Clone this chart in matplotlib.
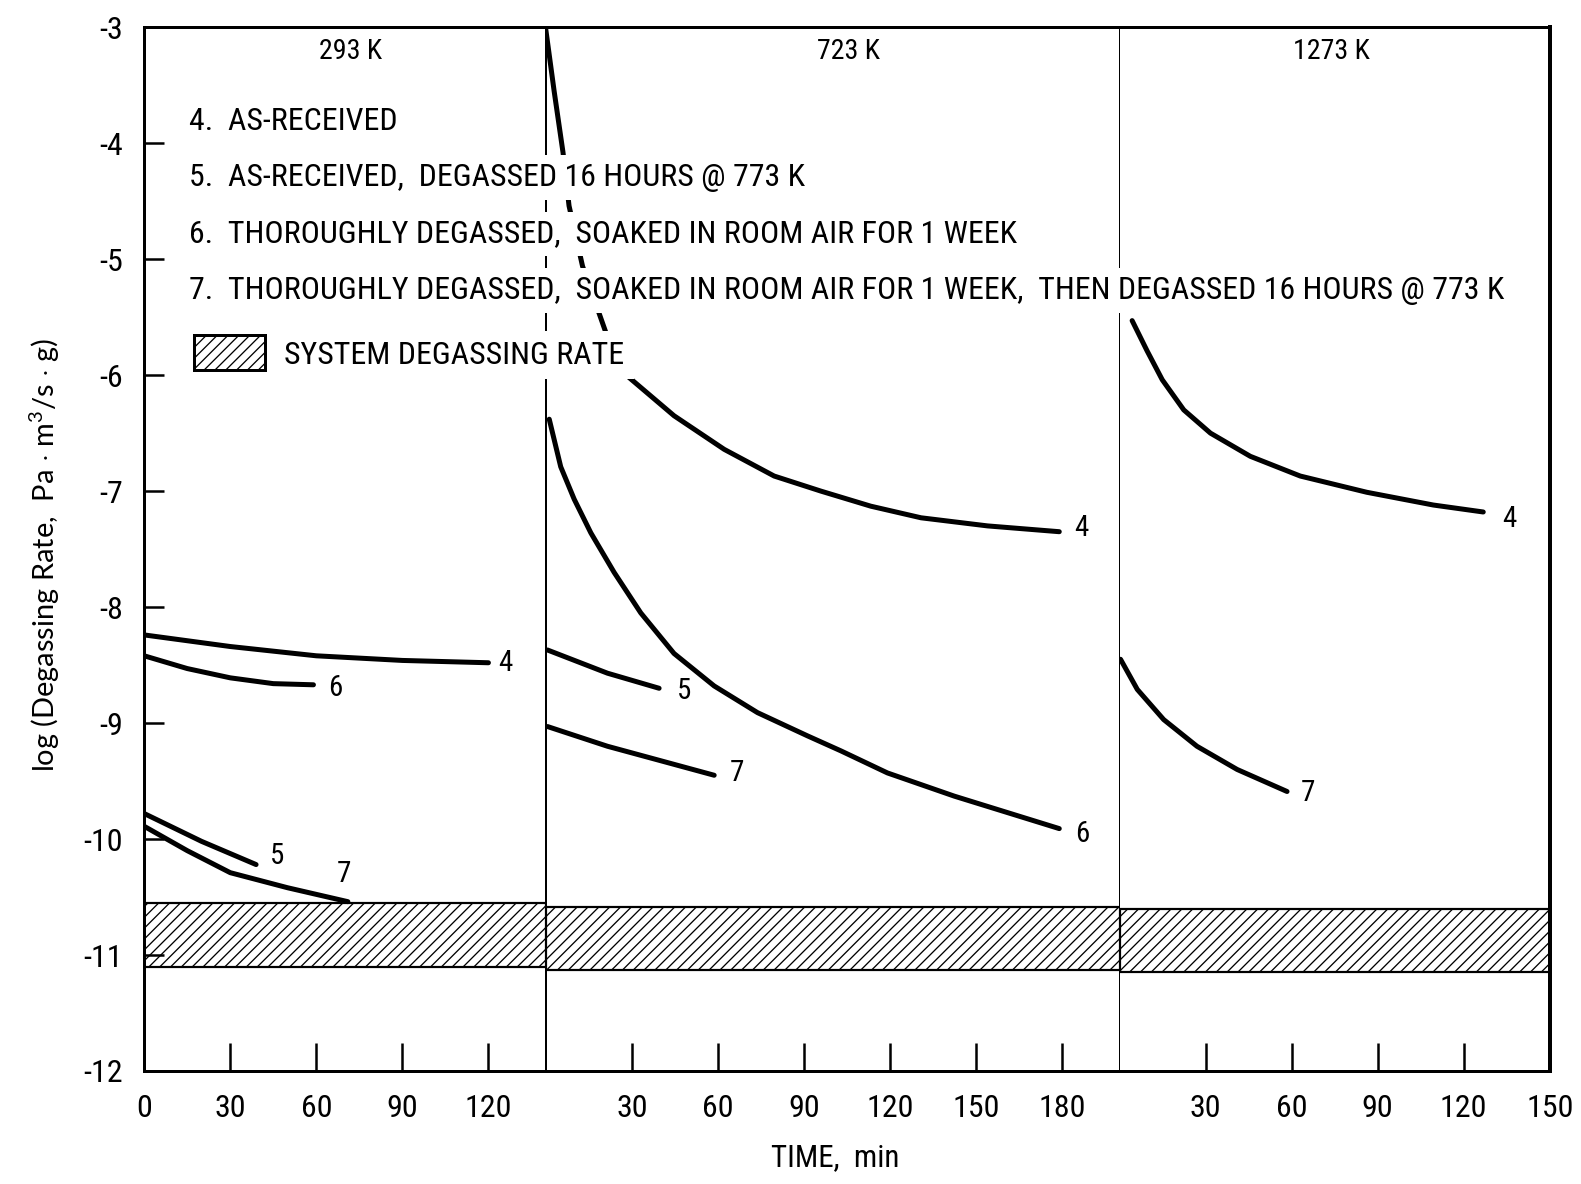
import os
import matplotlib
matplotlib.use("Agg")
import matplotlib.pyplot as plt
from matplotlib import font_manager
from matplotlib.font_manager import FontProperties
from matplotlib.patches import Rectangle

# ---------------- data ----------------
panel_minutes = [140, 200, 150]
panel_titles = ["293 K", "723 K", "1273 K"]

xtick_vals = [[0, 30, 60, 90, 120], [30, 60, 90, 120, 150, 180], [30, 60, 90, 120, 150]]
xtick_labels = [["0", "30", "60", "90", "120"],
                ["30", "60", "90", "120", "150", "180"],
                ["30", "60", "90", "120", "150"]]
ytick_vals = [-12, -11, -10, -9, -8, -7, -6, -5, -4, -3]
ytick_labels = ["-12", "-11", "-10", "-9", "-8", "-7", "-6", "-5", "-4", "-3"]

# system degassing rate band (log units) per panel
band_top = [-10.55, -10.59, -10.60]
band_bottom = [-11.10, -11.13, -11.15]

# 293 K
t4_293 = [0, 30, 60, 90, 120]
y4_293 = [-8.24, -8.34, -8.42, -8.46, -8.48]
t6_293 = [0, 15, 30, 45, 59]
y6_293 = [-8.42, -8.53, -8.61, -8.66, -8.67]
t5_293 = [0, 20, 39]
y5_293 = [-9.78, -10.02, -10.22]
t7_293 = [0, 15, 30, 50, 71]
y7_293 = [-9.89, -10.10, -10.29, -10.42, -10.54]

# 723 K
t4_723 = [0, 2.9, 6.0, 8.1, 12.8, 20.9, 29, 44.7, 62.2, 79.6, 95.9, 113.3, 130.8, 154, 179]
y4_723 = [-3.02, -3.55, -4.08, -4.54, -5.06, -5.63, -6.02, -6.35, -6.64, -6.87, -7.00,
          -7.13, -7.23, -7.30, -7.35]
t6_723 = [1.2, 5.2, 9.9, 15.7, 23.8, 33.1, 44.7, 58.7, 73.8, 91.2, 102.9, 119.1, 142.4, 179]
y6_723 = [-6.38, -6.79, -7.07, -7.36, -7.70, -8.05, -8.40, -8.68, -8.91, -9.11, -9.24,
          -9.43, -9.63, -9.91]
t5_723 = [0.6, 21.5, 39.5]
y5_723 = [-8.37, -8.57, -8.70]
t7_723 = [0.6, 21.5, 58.7]
y7_723 = [-9.03, -9.20, -9.45]

# 1273 K
t4_1273 = [4.4, 9.6, 14.9, 22.4, 31.7, 45.6, 63, 86.2, 109.4, 126.8]
y4_1273 = [-5.53, -5.79, -6.04, -6.30, -6.50, -6.70, -6.87, -7.01, -7.12, -7.18]
t7_1273 = [0.35, 6.2, 15.4, 27, 41, 58.4]
y7_1273 = [-8.45, -8.71, -8.97, -9.20, -9.40, -9.59]

curve_ids = [["4", "6", "5", "7"], ["4", "6", "5", "7"], ["4", "7"]]
curve_t = [[t4_293, t6_293, t5_293, t7_293], [t4_723, t6_723, t5_723, t7_723], [t4_1273, t7_1273]]
curve_y = [[y4_293, y6_293, y5_293, y7_293], [y4_723, y6_723, y5_723, y7_723], [y4_1273, y7_1273]]

legend_lines = [
    "4.  AS-RECEIVED",
    "5.  AS-RECEIVED,  DEGASSED 16 HOURS @ 773 K",
    "6.  THOROUGHLY DEGASSED,  SOAKED IN ROOM AIR FOR 1 WEEK",
    "7.  THOROUGHLY DEGASSED,  SOAKED IN ROOM AIR FOR 1 WEEK,  THEN DEGASSED 16 HOURS @ 773 K",
]
band_label = "SYSTEM DEGASSING RATE"
x_label = "TIME,  min"
y_label = r"log (Degassing Rate,  Pa $\cdot$ m$^{\mathrm{3}}$/s $\cdot$ g)"

# ---------------- style ----------------
DPI = 130
W, H = 1581, 1184


def pt(px):
    return px * 72.0 / DPI


def find_condensed():
    prefs = ["liberation sans narrow", "roboto condensed", "dejavu sans condensed",
             "open sans condensed", "noto sans condensed", "arial narrow"]
    found = {}
    for f in font_manager.fontManager.ttflist:
        base = os.path.basename(f.fname).lower().replace("-", " ").replace("_", " ")
        name = f.name.lower()
        if f.style != "normal":
            continue
        if "bold" in base or "light" in base or "thin" in base or "black" in base \
                or "medium" in base or "semi" in base or "extra" in base or "oblique" in base \
                or "italic" in base:
            continue
        key = None
        for p in prefs:
            ptoks = p.split()
            if all(tok in (name + " " + base) for tok in ptoks):
                key = p
                break
        if key is None and ("condensed" in base or "narrow" in base or "condensed" in name):
            key = "zz_other"
        if key is not None and key not in found:
            found[key] = f.fname
    for p in prefs + ["zz_other"]:
        if p in found:
            return found[p], p
    return None, None


cond_path, cond_kind = find_condensed()
names = {f.name for f in font_manager.fontManager.ttflist}
ylab_font = "Lato" if "Lato" in names else "DejaVu Sans"


def fp(px_size):
    if cond_path:
        return FontProperties(fname=cond_path, size=pt(px_size))
    return FontProperties(family="DejaVu Sans", stretch="condensed", size=pt(px_size))


plt.rcParams["hatch.linewidth"] = pt(1.3)
plt.rcParams["mathtext.fontset"] = "custom"
plt.rcParams["mathtext.rm"] = ylab_font
plt.rcParams["mathtext.it"] = ylab_font
plt.rcParams["mathtext.bf"] = ylab_font

PX_TEXT = 31.5
PX_TICK = 32
PX_TITLE = 28
PX_CLAB = 29
PX_XLAB = 31

fig = plt.figure(figsize=(W / DPI, H / DPI), dpi=DPI)
left, right = 144.2 / W, 1549.8 / W
top, bottom = 1 - 27.2 / H, 1 - 1071.0 / H
gs = fig.add_gridspec(1, 3, width_ratios=panel_minutes, left=left, right=right,
                      top=top, bottom=bottom, wspace=0)
axes = [fig.add_subplot(gs[0, i]) for i in range(3)]

title_x = [72, 105.5, 74]
label_offsets = [
    [(17, 0), (22, 3), (21, -9), (-4, -28)],
    [(22, -4), (23, 5), (25, 3), (23, -2)],
    [(26, 7), (21, 2)],
]

for i, ax in enumerate(axes):
    ax.set_xlim(0, panel_minutes[i])
    ax.set_ylim(-12, -3)
    ax.set_facecolor("white")
    ax.axhspan(band_bottom[i], band_top[i], facecolor="white", edgecolor="black",
               hatch="////", linewidth=pt(2.2), zorder=1)
    for cid, t, y, off in zip(curve_ids[i], curve_t[i], curve_y[i], label_offsets[i]):
        ax.plot(t, y, color="black", lw=pt(5), solid_capstyle="round",
                solid_joinstyle="round", zorder=3)
        ax.annotate(cid, xy=(t[-1], y[-1]), xytext=(pt(off[0]), -pt(off[1])),
                    textcoords="offset points", ha="center", va="center",
                    fontproperties=fp(PX_CLAB), zorder=4)
    ax.text(title_x[i], -3.21, panel_titles[i], ha="center", va="center",
            fontproperties=fp(PX_TITLE))
    ax.set_xticks(xtick_vals[i])
    ax.set_xticklabels(xtick_labels[i], fontproperties=fp(PX_TICK))
    ax.tick_params(axis="x", direction="in", length=pt(28), width=pt(2.5),
                   pad=pt(23), top=False)
    if i == 0:
        ax.set_yticks(ytick_vals)
        ax.set_yticklabels(ytick_labels, fontproperties=fp(PX_TICK))
        ax.tick_params(axis="y", direction="in", length=pt(20), width=pt(2.5),
                       pad=pt(21), right=False)
    else:
        ax.tick_params(axis="y", left=False, right=False, labelleft=False)
    for s in ["top", "bottom"]:
        ax.spines[s].set_linewidth(pt(3))

axes[0].spines["left"].set_linewidth(pt(3))
axes[0].spines["right"].set_visible(False)
axes[1].spines["left"].set_linewidth(pt(2))
axes[1].spines["right"].set_linewidth(pt(2))
axes[2].spines["left"].set_visible(False)
axes[2].spines["right"].set_linewidth(pt(4))

# legend block: fit the longest line to the reference width
renderer = fig.canvas.get_renderer()
probe = fig.text(0, 0, legend_lines[3], fontproperties=fp(PX_TEXT))
wpx = probe.get_window_extent(renderer).width
probe.remove()
px_leg = PX_TEXT * (1311.0 / wpx)
px_leg = max(24.0, min(34.0, px_leg))

leg_y = [121, 177.5, 234, 290.4]
bbox = dict(boxstyle="square,pad=0.25", facecolor="white", edgecolor="none")
for s, yy in zip(legend_lines, leg_y):
    fig.text(188.6 / W, 1 - yy / H, s, ha="left", va="center", fontproperties=fp(px_leg),
             bbox=bbox, zorder=10)
rect = Rectangle((193.6 / W, 1 - 370 / H), 71.6 / W, 35.2 / H, transform=fig.transFigure,
                 facecolor="white", edgecolor="black", hatch="////", linewidth=pt(3),
                 zorder=10)
fig.patches.append(rect)
fig.text(284.3 / W, 1 - 355 / H, band_label, ha="left", va="center", fontproperties=fp(px_leg),
         bbox=dict(boxstyle="square,pad=0.3", facecolor="white", edgecolor="none"),
         zorder=10)

fig.text(835.5 / W, 1 - 1157.5 / H, x_label, ha="center", va="center",
         fontproperties=fp(PX_XLAB))
fig.text(45.4 / W, 1 - 555 / H, y_label, rotation=90, ha="center", va="center",
         fontsize=pt(29), family=[ylab_font, "DejaVu Sans"])

fig.savefig("out.png", dpi=DPI, facecolor="white")
